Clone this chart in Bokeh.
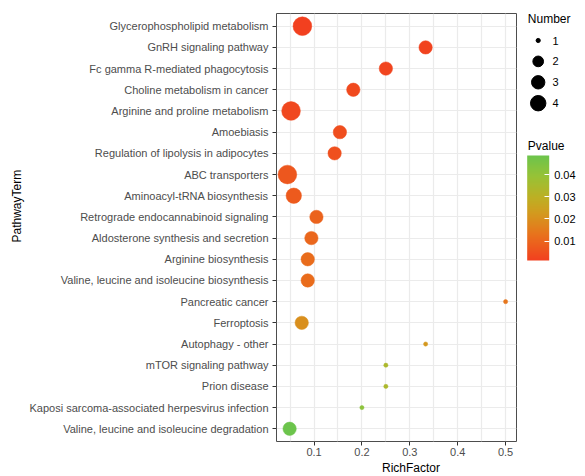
import math
from bokeh.plotting import figure
from bokeh.models import (ColumnDataSource, FactorRange, Range1d, FixedTicker, LinearColorMapper,
                          ColorBar, Title, PrintfTickFormatter)
from bokeh.layouts import row
from bokeh.core.properties import value
from bokeh.embed import file_html
from bokeh.resources import INLINE

terms = [
    "Glycerophospholipid metabolism",
    "GnRH signaling pathway",
    "Fc gamma R-mediated phagocytosis",
    "Choline metabolism in cancer",
    "Arginine and proline metabolism",
    "Amoebiasis",
    "Regulation of lipolysis in adipocytes",
    "ABC transporters",
    "Aminoacyl-tRNA biosynthesis",
    "Retrograde endocannabinoid signaling",
    "Aldosterone synthesis and secretion",
    "Arginine biosynthesis",
    "Valine, leucine and isoleucine biosynthesis",
    "Pancreatic cancer",
    "Ferroptosis",
    "Autophagy - other",
    "mTOR signaling pathway",
    "Prion disease",
    "Kaposi sarcoma-associated herpesvirus infection",
    "Valine, leucine and isoleucine degradation",
]
rich_factor = [0.0757, 0.333, 0.25, 0.182, 0.052, 0.154, 0.143, 0.0444, 0.0577, 0.105,
               0.0945, 0.0868, 0.0868, 0.5, 0.0743, 0.333, 0.25, 0.25, 0.2, 0.049]
number = [6, 3, 3, 3, 6, 3, 3, 6, 4, 3, 3, 3, 3, 1, 3, 1, 1, 1, 1, 3]
pvalue = [0.0013, 0.0022, 0.0025, 0.0035, 0.0032, 0.0045, 0.0050, 0.0068, 0.0075, 0.0095,
          0.0105, 0.0115, 0.0115, 0.0140, 0.0200, 0.0220, 0.0340, 0.0340, 0.0415, 0.0486]
x_ticks = [0.1, 0.2, 0.3, 0.4, 0.5]
x_minor = [0.05, 0.15, 0.25, 0.35, 0.45]
size_breaks = [1, 2, 3, 4]
p_ticks = [0.01, 0.02, 0.03, 0.04]

# colour stops of the Pvalue gradient (position 0..1 -> colour)
grad_pos = [0.0, 0.25, 0.45, 0.6, 0.8, 1.0]
grad_col = ["#F2401F", "#E8731C", "#D39A1E", "#BDB024", "#98C236", "#6CC44C"]
FONT = "Liberation Sans"

def _rgb(h):
    return [int(h[i:i + 2], 16) for i in (1, 3, 5)]

palette = []
for i in range(256):
    t = i / 255
    k = max(j for j in range(len(grad_pos) - 1) if grad_pos[j] <= t) if t < 1 else len(grad_pos) - 2
    f = (t - grad_pos[k]) / (grad_pos[k + 1] - grad_pos[k])
    a, b = _rgb(grad_col[k]), _rgb(grad_col[k + 1])
    palette.append("#%02x%02x%02x" % tuple(round(a[c] + (b[c] - a[c]) * f) for c in range(3)))
mapper = LinearColorMapper(palette=palette, low=min(pvalue), high=max(pvalue))

# ---- size scale (area, range 1..6 like ggplot) ----
nmin, nmax = min(number), max(number)
def size_px(v):
    return 2.9 * (1 + 5 * math.sqrt((v - nmin) / (nmax - nmin))) + 1.3

src = ColumnDataSource(dict(term=terms, rf=rich_factor, n=number, p=pvalue,
                            sz=[size_px(v) for v in number]))

lo, hi = min(rich_factor), max(rich_factor)
pad = 0.05 * (hi - lo)

W_MAIN, H = 517, 476
TOP, BOTTOM = 13, 35
p = figure(width=W_MAIN, height=H, output_backend="svg", toolbar_location=None,
           x_range=Range1d(lo - pad, hi + pad),
           y_range=FactorRange(factors=list(reversed(terms)), range_padding=0.1,
                               range_padding_units="absolute"),
           min_border_left=276, min_border_right=1, min_border_top=TOP, min_border_bottom=BOTTOM)
p.background_fill_color = "white"
p.border_fill_color = "white"
p.outline_line_color = "#4d4d4d"
p.outline_line_width = 1

p.scatter(x="rf", y="term", size="sz", source=src,
          fill_color={"field": "p", "transform": mapper},
          line_color={"field": "p", "transform": mapper}, line_width=0.5)

p.xaxis.ticker = FixedTicker(ticks=x_ticks, minor_ticks=x_minor)
for ax in (p.xaxis[0], p.yaxis[0]):
    ax.axis_line_color = None
    ax.major_tick_line_color = "#333333"
    ax.major_tick_in = 0
    ax.major_tick_out = 4
    ax.minor_tick_line_color = None
    ax.major_label_text_font = FONT
    ax.major_label_text_font_size = "11px"
    ax.major_label_text_color = "#4d4d4d"
p.xaxis.major_label_standoff = 2
p.yaxis.major_label_standoff = 4

p.xgrid.grid_line_color = "#EBEBEB"
p.xgrid.grid_line_width = 1.2
p.xgrid.minor_grid_line_color = "#EBEBEB"
p.xgrid.minor_grid_line_width = 1.2
p.ygrid.grid_line_color = "#EBEBEB"
p.ygrid.grid_line_width = 1.2

# axis titles (offset measured from the start of the panel edge)
p.add_layout(Title(text="RichFactor", align="left", offset=105.5, standoff=0,
                   text_font=FONT, text_font_size="12px", text_font_style="normal",
                   text_color="black"), "below")
p.add_layout(Title(text="PathwayTerm", align="left", offset=199, standoff=6,
                   text_font=FONT, text_font_size="12px", text_font_style="normal",
                   text_color="black"), "left")

# ---- legend figure (frame aligned with the main frame; data y = page px) ----
W_LEG = 585 - W_MAIN
lf = figure(width=W_LEG, height=H, output_backend="svg", toolbar_location=None,
            x_range=Range1d(0, W_LEG), y_range=Range1d(H - BOTTOM, TOP),
            x_axis_type=None, y_axis_type=None,
            min_border_left=0, min_border_right=0, min_border_top=TOP, min_border_bottom=BOTTOM)
lf.outline_line_color = None
lf.grid.visible = False
lf.background_fill_color = "white"
lf.border_fill_color = "white"

row_y = [40 + 20.9 * i for i in range(len(size_breaks))]
lsrc = ColumnDataSource(dict(y=row_y, x=[20.7] * len(size_breaks), tx=[35] * len(size_breaks),
                             sz=[size_px(v) for v in size_breaks],
                             lab=[str(v) for v in size_breaks]))
lf.scatter(x="x", y="y", size="sz", source=lsrc, fill_color="black", line_color="black")
lf.text(x="tx", y="y", text="lab", source=lsrc, text_font=value(FONT), text_font_size="11px",
        text_baseline="middle", text_align="left", text_color="black")
lf.text(x=[10.3, 10.3], y=[18.3, 145], text=["Number", "Pvalue"], text_font=value(FONT),
        text_font_size="12px", text_baseline="middle", text_align="left", text_color="black")

cb = ColorBar(color_mapper=mapper, ticker=FixedTicker(ticks=p_ticks),
              formatter=PrintfTickFormatter(format="%.2f"),
              width=22, height=105, location=(9.7, (H - BOTTOM) - 260), padding=0, margin=0,
              title=None,
              major_label_text_font=FONT, major_label_text_font_size="11px",
              major_label_text_color="black", label_standoff=5,
              major_tick_line_color="white", major_tick_in=5, major_tick_out=0,
              bar_line_color=None, border_line_color=None, background_fill_color=None)
lf.add_layout(cb)

layout = row(p, lf)
open("out.html", "w").write(file_html(layout, INLINE))
